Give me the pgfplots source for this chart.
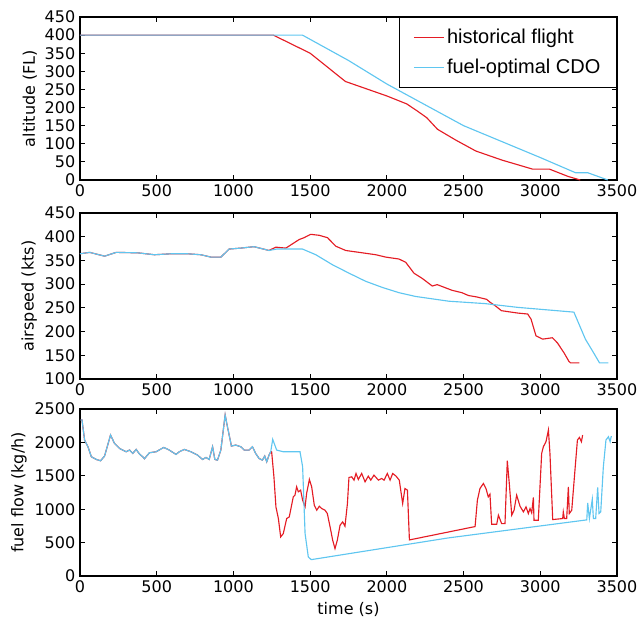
\documentclass[border=0pt]{standalone}
\usepackage{fontspec}
\setmainfont{DejaVu Sans}
\newfontfamily\legfont{Liberation Sans}
\usepackage{pgfplots}
\pgfplotsset{compat=1.18}
\definecolor{histred}{RGB}{228,28,36}
\definecolor{cdoblue}{RGB}{95,198,240}

\pgfplotsset{
  flightaxis/.style={
    scale only axis, width=402.75pt,
    xmin=0, xmax=3500, xtick={0,500,...,3500},
    font=\fontsize{12}{14}\selectfont,
    /pgf/number format/assume math mode=true,
    /pgf/number format/1000 sep={},
    axis line style={line width=0.8pt, black},
    major tick style={line width=0.7pt, black},
    major tick length=4pt,
    minor tick num=0,
    tick align=inside,
    ylabel style={yshift=-1pt},
  },
  hist/.style={histred, line width=0.85pt},
  cdo/.style={cdoblue, line width=0.85pt},
}

\begin{document}
\begin{tikzpicture}

% altitude
\begin{axis}[flightaxis, at={(0,297pt)}, height=122.25pt,
  ymin=0, ymax=450, ytick={0,50,...,450},
  ylabel={altitude (FL)},
  legend style={at={(1,1)}, anchor=north east, draw=black, line width=0.9pt,
    font=\legfont\fontsize{15}{17}\selectfont,
    inner xsep=10pt, inner ysep=6.5pt, row sep=6.5pt,
    /tikz/every even column/.append style={column sep=9pt}},
  legend cell align=left,
  legend image code/.code={\draw[#1] (0pt,0pt) -- (22.5pt,0pt);},
]
\addplot[hist] coordinates {
  (0,400) (1260,400) (1500,350) (1730,272) (2000,232) (2130,210) (2200,190)
  (2260,172) (2330,140) (2450,110) (2580,80) (2750,55) (2950,30) (3060,30)
  (3180,10) (3260,0)
};
\addlegendentry{historical flight}
\addplot[cdo] coordinates {
  (0,400) (1450,400) (1750,330) (2000,265) (2500,150) (3000,62) (3230,20)
  (3310,20) (3440,0)
};
\addlegendentry{fuel-optimal CDO}
\end{axis}

% airspeed
\begin{axis}[flightaxis, at={(0,147.75pt)}, height=124.5pt,
  ymin=100, ymax=450, ytick={100,150,...,450},
  ylabel={airspeed (kts)},
]
\addplot[hist] coordinates {
  (0,364) (63,367) (160,359) (236,367) (377,366) (485,362) (593,364) (701,364)
  (788,362) (853,357) (918,357) (972,374) (1048,376) (1134,379) (1232,371)
  (1276,378) (1342,376) (1428,394) (1461,398) (1504,405) (1559,403) (1613,398)
  (1667,380) (1732,371) (1819,367) (1928,362) (1993,357) (2079,353) (2123,346)
  (2177,323) (2231,312) (2296,296) (2328,299) (2425,287) (2489,282) (2532,276)
  (2586,273) (2650,268) (2672,262) (2704,255) (2747,244) (2790,242) (2854,239)
  (2918,237) (2940,226) (2972,191) (3015,184) (3079,187) (3112,176) (3155,155)
  (3187,137) (3197,134) (3255,134)
};
\addplot[cdo] coordinates {
  (0,364) (63,367) (160,359) (236,367) (377,366) (485,362) (593,364) (701,364)
  (788,362) (853,357) (918,357) (972,374) (1048,376) (1134,379) (1232,371)
  (1282,374) (1450,374) (1537,362) (1645,341) (1754,323) (1862,306) (1971,293)
  (2079,282) (2188,274) (2405,264) (2639,259) (2854,251) (3219,241) (3294,184)
  (3348,155) (3386,134) (3444,134)
};
\end{axis}

% fuel flow
\begin{axis}[flightaxis, at={(0,0)}, height=125.25pt,
  ymin=0, ymax=2500, ytick={0,500,...,2500},
  ylabel={fuel flow (kg/h)}, xlabel={time (s)},
]
\addplot[hist] coordinates {
  (4,2335) (13,2335) (30,2035) (52,1935) (74,1785) (106,1745) (134,1725)
  (160,1795) (199,2110) (225,1985) (258,1910) (279,1885) (301,1860) (323,1885)
  (344,1835) (366,1895) (388,1825) (409,1785) (420,1755) (452,1845) (496,1860)
  (546,1925) (582,1885) (626,1820) (647,1860) (680,1895) (723,1860) (766,1810)
  (799,1745) (821,1775) (842,1745) (864,1935) (879,1745) (896,1735) (918,1885)
  (946,2410) (961,2235) (987,1945) (1015,1960) (1048,1935) (1070,1885)
  (1102,1885) (1124,1935) (1145,1835) (1167,1760) (1189,1735) (1204,1795)
  (1217,1710) (1232,1810) (1243,1860)
  (1249,1860) (1264,1485) (1277,1035) (1293,860) (1308,585) (1325,635)
  (1347,860) (1364,885) (1390,1185) (1401,1210) (1412,1335) (1423,1260)
  (1438,1285) (1451,1135) (1467,1035) (1477,1235) (1495,1445) (1510,1335)
  (1527,1060) (1543,985) (1560,1045) (1575,1010) (1597,985) (1612,935)
  (1630,735) (1647,535) (1662,410) (1677,535) (1695,760) (1712,810) (1727,745)
  (1743,1085) (1753,1475) (1771,1485) (1786,1435) (1799,1535) (1814,1445)
  (1836,1535) (1858,1410) (1879,1495) (1895,1435) (1916,1510) (1945,1435)
  (1966,1460) (1982,1435) (2003,1535) (2021,1435) (2038,1535) (2060,1495)
  (2081,1435) (2103,1085) (2118,1310) (2134,1285) (2147,540)
  (2575,740) (2590,1135) (2607,1310) (2629,1385) (2646,1310) (2661,1185)
  (2672,1225) (2683,775) (2716,775) (2727,910) (2738,845) (2748,785) (2770,785)
  (2785,1725) (2798,1385) (2814,910) (2829,985) (2846,1210) (2868,1045)
  (2890,960) (2907,1035) (2922,935) (2933,1010) (2944,945) (2955,1175)
  (2959,835) (2987,835) (3009,1835) (3020,1935) (3037,2010) (3053,2185)
  (3063,1835) (3081,845) (3146,860) (3150,960) (3157,860) (3172,860)
  (3183,1335) (3189,935) (3205,985) (3226,1585) (3242,2035) (3255,2075)
  (3268,2010) (3276,2110)
};
\addplot[cdo] coordinates {
  (4,2335) (13,2335) (30,2035) (52,1935) (74,1785) (106,1745) (134,1725)
  (160,1795) (199,2110) (225,1985) (258,1910) (279,1885) (301,1860) (323,1885)
  (344,1835) (366,1895) (388,1825) (409,1785) (420,1755) (452,1845) (496,1860)
  (546,1925) (582,1885) (626,1820) (647,1860) (680,1895) (723,1860) (766,1810)
  (799,1745) (821,1775) (842,1745) (864,1935) (879,1745) (896,1735) (918,1885)
  (946,2410) (961,2235) (987,1945) (1015,1960) (1048,1935) (1070,1885)
  (1102,1885) (1124,1935) (1145,1835) (1167,1760) (1189,1735) (1204,1795)
  (1217,1710) (1232,1810) (1243,1860)
  (1256,2045) (1282,1885) (1325,1860) (1434,1860) (1451,1635) (1467,635)
  (1488,285) (1507,245) (2400,570) (3303,840) (3309,1095) (3320,860)
  (3339,1150) (3346,860) (3361,860) (3374,1325) (3383,935) (3394,960)
  (3411,1635) (3428,2035) (3444,2085) (3455,2010) (3463,2095)
};
\end{axis}

\pgfresetboundingbox
\useasboundingbox (-60pt,-34.5pt) rectangle (421.5pt,432pt);
\end{tikzpicture}
\end{document}
